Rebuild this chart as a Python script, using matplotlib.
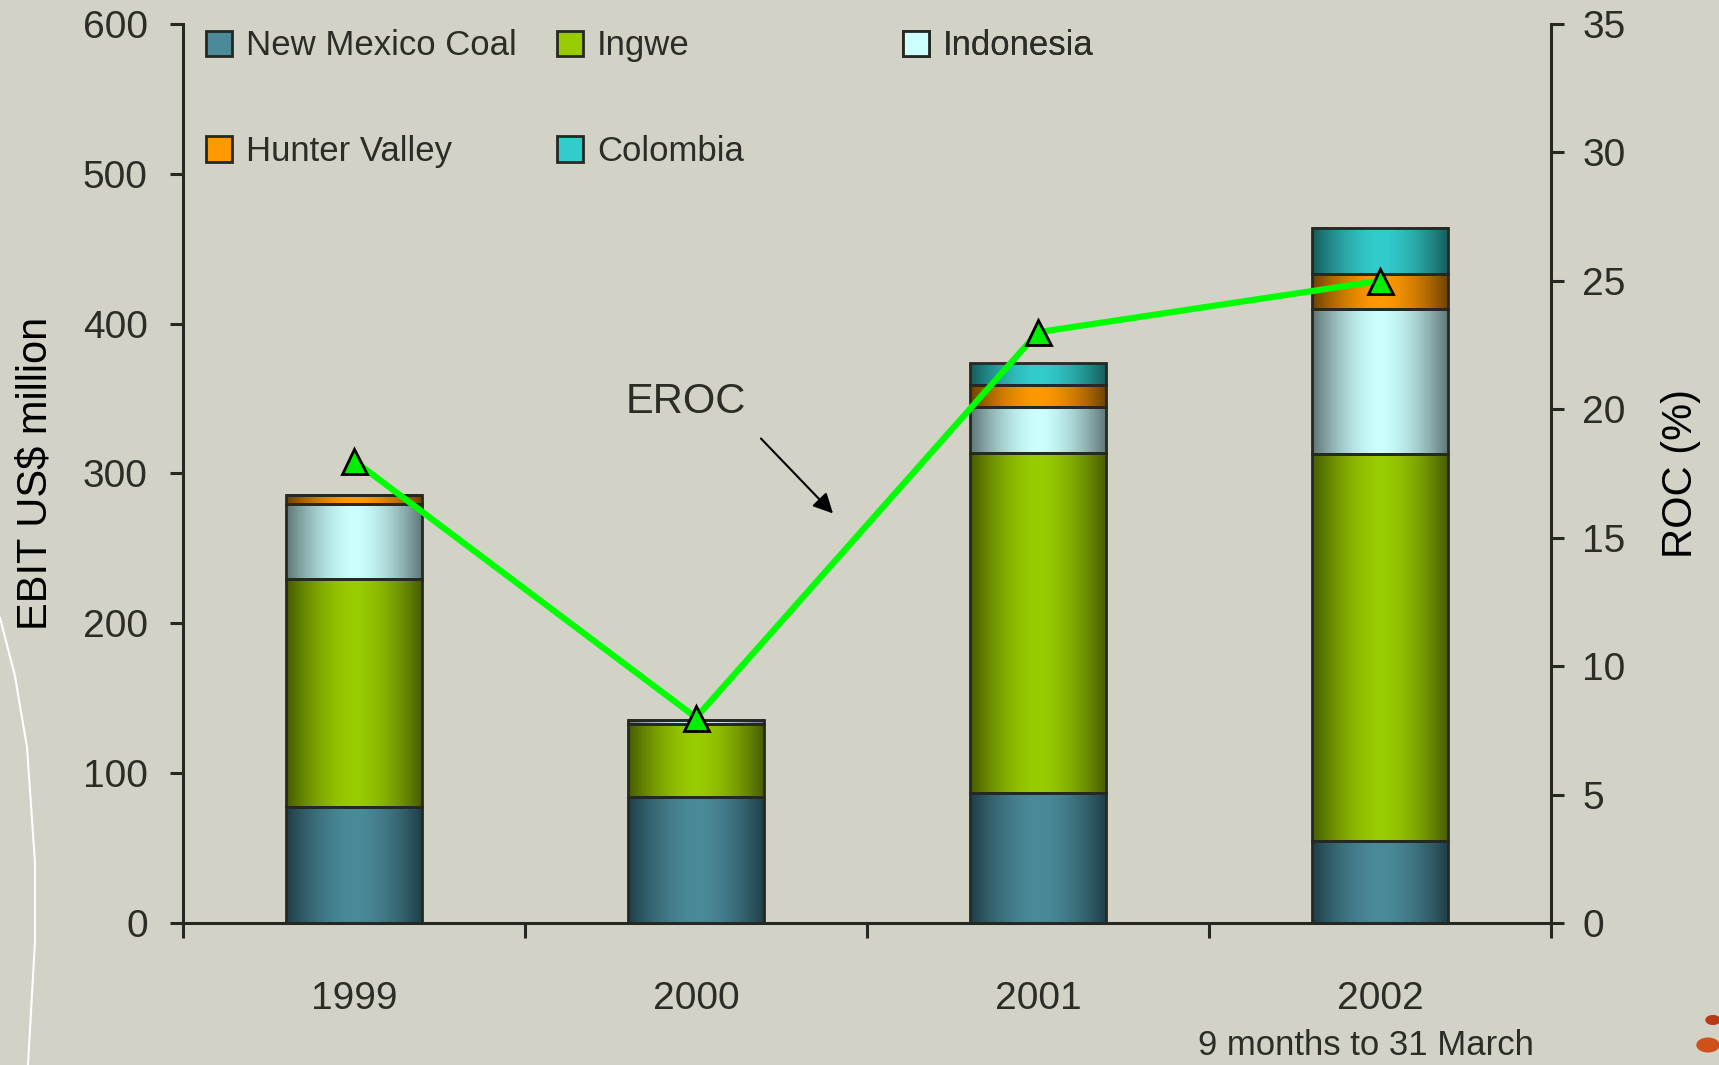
import numpy as np
import matplotlib.pyplot as plt
from matplotlib.patches import Patch, Circle
from matplotlib.lines import Line2D

# data
years = ['1999', '2000', '2001', '2002']
new_mexico = [77.5, 84, 87, 55]
ingwe = [152, 49, 226.5, 258]
indonesia = [50, 2.5, 31, 97]
hunter_valley = [6, 0, 14.7, 23]
colombia = [0, 0, 14.6, 31]
roc = [18, 8, 23, 25]

series_names = ['New Mexico Coal', 'Ingwe', 'Indonesia', 'Hunter Valley', 'Colombia']
series_vals = [new_mexico, ingwe, indonesia, hunter_valley, colombia]
# (light centre, dark edge) for the cylinder-ish shading
series_cols = [('#4b8b99', '#1f3d47'),
               ('#99cc00', '#465a00'),
               ('#ccffff', '#5d7373'),
               ('#ff9900', '#6a4000'),
               ('#33cccc', '#165a5a')]

BG = '#d2d2c7'
INK = '#2b2d26'
EDGE = '#262822'

plt.rcParams['font.family'] = ['Liberation Sans', 'DejaVu Sans']
plt.rcParams['text.color'] = INK


def shade(lite, dark, n=256):
    t = np.linspace(0, 1, n)
    w = 1 - np.abs(2 * t - 1) ** 1.7
    a = np.array(plt.matplotlib.colors.to_rgb(lite))
    b = np.array(plt.matplotlib.colors.to_rgb(dark))
    return (b + (a - b) * w[:, None])[None, :, :]


fig = plt.figure(figsize=(17.19, 10.65), dpi=100, facecolor=BG)
ax = fig.add_axes([0.1065, 0.1333, 0.7958, 0.8442], facecolor=BG)
ax2 = ax.twinx()

x = np.arange(len(years))
bottom = np.zeros(len(years))
for vals, (lite, dark) in zip(series_vals, series_cols):
    bars = ax.bar(x, vals, 0.4, bottom=bottom, facecolor='none',
                  edgecolor=EDGE, lw=2, zorder=3)
    for b in bars:
        if b.get_height() <= 0:
            continue
        ax.imshow(shade(lite, dark),
                  extent=[b.get_x(), b.get_x() + b.get_width(),
                          b.get_y(), b.get_y() + b.get_height()],
                  aspect='auto', interpolation='bilinear', zorder=2)
    bottom += np.array(vals)

ax.set_xlim(-0.5, 3.5)
ax.set_ylim(0, 600)
ax.set_yticks(range(0, 601, 100))
ax.set_xticks([-0.5, 0.5, 1.5, 2.5, 3.5])
ax.set_xticklabels([])
ax.set_xticks(x, minor=True)
ax.set_xticklabels(years, minor=True, fontsize=28)
ax.tick_params(axis='x', which='major', direction='out', length=11, width=2.2, color=EDGE)
ax.tick_params(axis='x', which='minor', length=0, pad=42, labelcolor=INK)
ax.tick_params(axis='y', direction='out', length=9.5, width=2.2, color=EDGE,
               labelsize=28, pad=16, labelcolor=INK)
for s in ['top', 'right']:
    ax.spines[s].set_visible(False)
for s in ['left', 'bottom']:
    ax.spines[s].set_linewidth(2.2)
    ax.spines[s].set_color(EDGE)
ax.set_ylabel('EBIT US$ million', fontsize=30)
ax.yaxis.set_label_coords(-0.0936, 0.5)
ax.text(2.96, -0.136, '9 months to 31 March', transform=ax.get_xaxis_transform(),
        ha='center', va='center', fontsize=25)

# ROC line
ax2.plot(x, roc, color='#00ff00', lw=4.5, marker='^', markersize=18,
         markerfacecolor='#00ee00', markeredgecolor='black', markeredgewidth=2,
         zorder=5)
ax2.set_ylim(0, 35)
ax2.set_yticks(range(0, 36, 5))
ax2.tick_params(axis='y', direction='out', length=9.5, width=2.2, color=EDGE,
                labelsize=28, pad=13, labelcolor=INK)
for s in ['top', 'left', 'bottom']:
    ax2.spines[s].set_visible(False)
ax2.spines['right'].set_linewidth(2.2)
ax2.spines['right'].set_color(EDGE)
ax2.set_ylabel('ROC (%)', fontsize=30, rotation=90)
ax2.yaxis.set_label_coords(1.0804, 0.5)

# EROC callout
ax2.annotate('', xy=(1.406, 272 / 600 * 35), xytext=(1.184, 324.7 / 600 * 35),
             arrowprops=dict(arrowstyle='-|>', color='black', lw=1.5,
                             mutation_scale=30))
ax2.text(0.97, 348 / 600 * 35, 'EROC', ha='center', va='center', fontsize=30)

# legend laid out as in the original slide
handles = [Patch(facecolor=c[0], edgecolor=EDGE, lw=2) for c in series_cols]
leg_kw = dict(frameon=False, fontsize=25, loc='upper left', borderpad=0,
              borderaxespad=0, handlelength=0.75, handleheight=0.75,
              handletextpad=0.4, labelspacing=2.1, labelcolor=INK)
groups = [[0, 3], [1, 4], [2]]
xs = [0.0168, 0.2734, 0.5263]
for g, lx in zip(groups, xs):
    leg = ax2.legend([handles[i] for i in g], [series_names[i] for i in g],
                     bbox_to_anchor=(lx, 0.994), **leg_kw)
    ax2.add_artist(leg)

# slide decorations
px = np.array([0, 15, 20, 27, 35, 35, 28])
py = np.array([618, 676, 706, 747, 863, 941, 1065])
fig.add_artist(Line2D(px / 1719, 1 - py / 1065, color='white', lw=1.5,
                      transform=fig.transFigure))
fig.add_artist(Circle((1713 / 1719, 1 - 1020 / 1065), 7 / 1719, color='#b83a14',
                      transform=fig.transFigure))
fig.add_artist(Circle((1708 / 1719, 1 - 1045 / 1065), 11 / 1719, color='#d0501a',
                      transform=fig.transFigure))

fig.savefig('out.png', dpi=100, facecolor=BG)
